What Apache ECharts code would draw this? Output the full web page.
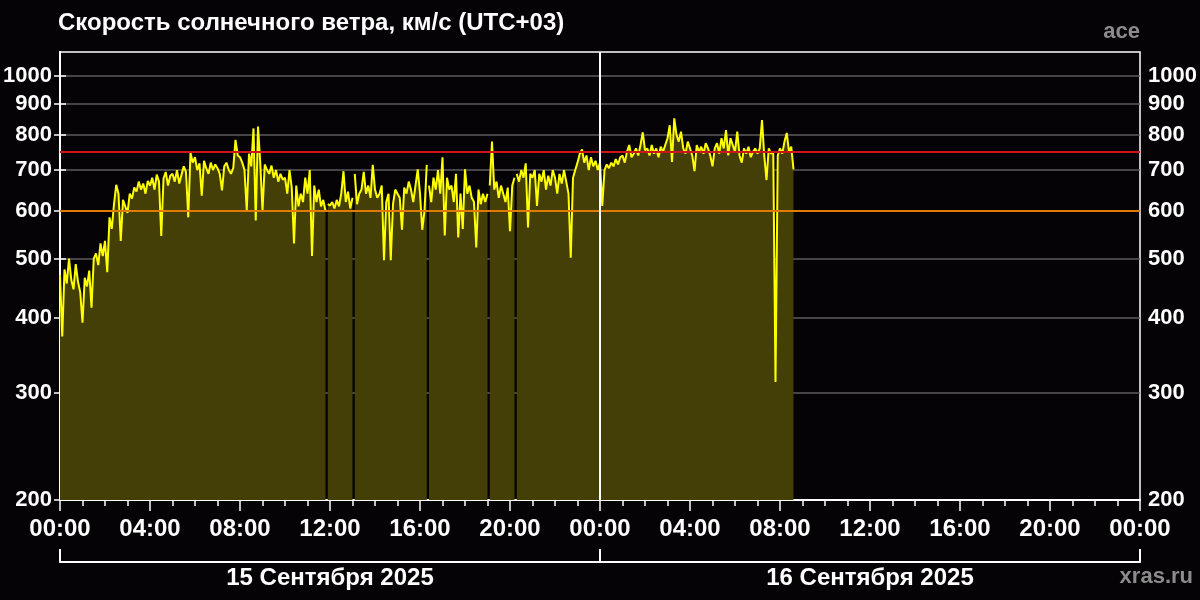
<!DOCTYPE html>
<html>
<head>
<meta charset="utf-8">
<script src="https://cdn.jsdelivr.net/npm/echarts@6/dist/echarts.min.js"></script>
<style>
html,body{margin:0;padding:0;background:#050305;}
#chart{width:1200px;height:600px;}
</style>
</head>
<body>
<div id="chart"></div>
<script>
// Solar wind speed, km/s, 6-minute samples starting 15 Sep 2025 00:00 (UTC+03)
const stepHours = 0.1;
const speedDay1 = [
  470, 372, 480, 455, 500, 462, 445, 490, 458, 440,
  392, 465, 450, 478, 415, 500, 510, 488, 530, 505,
  535, 475, 585, 560, 615, 662, 640, 535, 625, 610,
  595, 640, 628, 655, 645, 670, 650, 665, 640, 672,
  660, 680, 650, 688, 670, 545, 678, 695, 660, 685,
  690, 670, 700, 665, 688, 710, 695, 585, 748, 720,
  735, 700, 718, 635, 725, 705, 690, 720, 700, 715,
  705, 690, 648, 710, 720, 700, 690, 705, 785, 740,
  735, 720, 700, 600, 745, 710, 820, 578, 826, 720,
  600, 715, 700, 690, 712, 680, 700, 670, 690, 675,
  680, 640, 700, 655, 530, 660, 610, 640, 620, 680,
  640, 700, 505, 660, 620, 650, 610, 625, 600, 615,
  612, 620, 605, 625, 610, 640, 697, 620, 645, 605,
  630, 690, 615, 640, 650, 695, 640, 660, 630, 714,
  650, 630, 640, 660, 497, 620, 640, 497, 615, 650,
  640, 630, 558, 655, 640, 670, 650, 620, 660, 702,
  640, 558, 600, 714, 660, 620, 680, 650, 700, 640,
  735, 546, 680, 650, 660, 620, 690, 542, 640, 560,
  702, 640, 660, 630, 620, 522, 650, 615, 640, 620,
  640, 660, 780, 650, 670, 630, 660, 640, 620, 655,
  555, 660, 680, 690, 670, 700, 680, 718, 563, 690,
  680, 700, 611, 690, 670, 700, 650, 685, 660, 700,
  680, 640, 690, 665, 700, 670, 640, 502, 680, 700,
  720, 745, 757, 720, 740, 700, 735, 710, 725, 700
];
const speedDay2 = [
  720, 611, 700, 715, 705, 720, 710, 730, 715, 735,
  740, 720, 750, 770, 735, 745, 760, 740, 770, 808,
  755, 760, 740, 770, 745, 760, 735, 765, 750, 770,
  790, 830, 722, 852, 800, 780, 810, 760, 745, 780,
  760, 740, 697, 770, 750, 765, 745, 775, 760, 740,
  710, 760, 775, 745, 790, 760, 815, 740, 790, 770,
  750, 810, 740, 720, 760, 745, 765, 735, 750, 760,
  745, 760, 846, 740, 674, 760, 745, 750, 313, 740,
  760, 745, 780, 806, 750, 765, 702
];
// data gaps (hours from start)
const gapHours = [11.87, 13.03, 16.35, 19.03, 20.23];
const thresholds = [600, 750];
const yTicks = [200, 300, 400, 500, 600, 700, 800, 900, 1000];
const dayLabels = ['15 Сентября 2025', '16 Сентября 2025'];
const dayBounds = [0, 24, 48];
const dayCenters = [12, 36];

const speed = speedDay1.concat(speedDay2);
const seriesData = [];
let gi = 0;
speed.forEach(function (v, i) {
  const t = +(i * stepHours).toFixed(2);
  while (gi < gapHours.length && gapHours[gi] < t) {
    seriesData.push([gapHours[gi], null]);
    gi++;
  }
  seriesData.push([t, v]);
});

const FONT = '"Liberation Sans", Arial, sans-serif';
const chart = echarts.init(document.getElementById('chart'), null, {renderer: 'canvas'});
const yAxisBase = {
  type: 'log',
  min: 200,
  max: 1096,
  logBase: 10,
  axisLine: {show: true, lineStyle: {color: '#ffffff', width: 2}},
  axisTick: {show: true, customValues: yTicks, length: 6, lineStyle: {color: '#ffffff', width: 1.5}},
  axisLabel: {customValues: yTicks, color: '#ffffff', fontFamily: FONT, fontWeight: 'bold', fontSize: 22, margin: 8,
    formatter: function (v) { return String(Math.round(v)); }},
  minorTick: {show: false},
  minorSplitLine: {show: false}
};
chart.setOption({
  backgroundColor: '#050305',
  animation: false,
  title: [
    {text: 'Скорость солнечного ветра, км/с (UTC+03)', left: 58, top: 11, padding: 0,
     textStyle: {color: '#ffffff', fontFamily: FONT, fontWeight: 'bold', fontSize: 24}},
    {text: 'ace', right: 60, top: 21, padding: 0,
     textStyle: {color: '#8c8c8c', fontFamily: FONT, fontWeight: 'bold', fontSize: 22}},
    {text: 'xras.ru', right: 7, top: 566, padding: 0,
     textStyle: {color: '#8c8c8c', fontFamily: FONT, fontWeight: 'bold', fontSize: 22}}
  ],
  grid: {left: 60, right: 60, top: 52, bottom: 100, show: true, borderColor: '#ffffff', borderWidth: 1.5,
    backgroundColor: 'transparent', containLabel: false, outerBoundsMode: 'none'},
  xAxis: [
    {
      type: 'value', min: 0, max: 48, interval: 4, position: 'bottom',
      axisLine: {show: true, onZero: false, lineStyle: {color: '#ffffff', width: 2}},
      axisTick: {show: true, length: 11, lineStyle: {color: '#ffffff', width: 1.5}},
      minorTick: {show: true, splitNumber: 4, length: 6, lineStyle: {color: '#ffffff', width: 1.5}},
      splitLine: {show: false},
      axisLabel: {color: '#ffffff', fontFamily: FONT, fontWeight: 'bold', fontSize: 24, margin: 17,
        formatter: function (v) { const h = Math.round(v) % 24; return (h < 10 ? '0' : '') + h + ':00'; }}
    },
    {
      type: 'value', min: 0, max: 48, position: 'bottom', offset: 62,
      axisLine: {show: true, onZero: false, lineStyle: {color: '#ffffff', width: 2}},
      axisTick: {show: true, inside: true, customValues: dayBounds, length: 13, lineStyle: {color: '#ffffff', width: 2}},
      splitLine: {show: false},
      axisLabel: {customValues: dayCenters, color: '#ffffff', fontFamily: FONT, fontWeight: 'bold', fontSize: 24, margin: 4,
        formatter: function (v) { return dayLabels[Math.floor(v / 24)]; }}
    }
  ],
  yAxis: [
    Object.assign({}, yAxisBase, {position: 'left',
      splitLine: {show: true, lineStyle: {color: '#5c5c5c', width: 1.5}}}),
    Object.assign({}, yAxisBase, {position: 'right', splitLine: {show: false}})
  ],
  series: [{
    type: 'line',
    xAxisIndex: 0,
    yAxisIndex: 0,
    data: seriesData,
    showSymbol: false,
    symbol: 'none',
    connectNulls: false,
    lineStyle: {color: '#ffff00', width: 2},
    areaStyle: {color: '#443f07', opacity: 1, origin: 'start'},
    markLine: {
      silent: true,
      symbol: 'none',
      label: {show: false},
      data: [
        {yAxis: thresholds[0], lineStyle: {color: '#e07b00', width: 2, type: 'solid'}},
        {yAxis: thresholds[1], lineStyle: {color: '#d01418', width: 2, type: 'solid'}},
        {xAxis: dayBounds[1], lineStyle: {color: '#ffffff', width: 2, type: 'solid'}}
      ]
    }
  }]
});
</script>
</body>
</html>
